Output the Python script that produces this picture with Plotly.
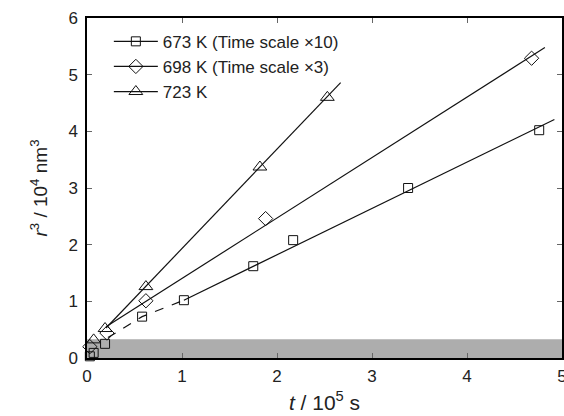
import plotly.graph_objects as go

# ---- data ----
t_673 = [0.03, 0.07, 0.19, 0.58, 1.02, 1.75, 2.17, 3.38, 4.76]
r3_673 = [0.03, 0.09, 0.25, 0.73, 1.02, 1.62, 2.08, 3.00, 4.02]

t_698 = [0.03, 0.21, 0.62, 1.88, 4.68]
r3_698 = [0.20, 0.44, 1.01, 2.46, 5.29]

t_723 = [0.07, 0.19, 0.62, 1.82, 2.53]
r3_723 = [0.32, 0.52, 1.26, 3.37, 4.60]

# guide lines (as drawn)
dash_x_673 = [0.22, 0.58, 1.02]
dash_y_673 = [0.36, 0.73, 1.02]
fit_x_673 = [1.02, 4.92]
fit_y_673 = [1.02, 4.21]
fit_x_698 = [0.20, 4.82]
fit_y_698 = [0.55, 5.48]
fit_x_723 = [0.20, 2.67]
fit_y_723 = [0.53, 4.86]

band_x = [0, 5]
band_y = [0, 0.33]

names = ["673 K (Time scale \u00d710)", "698 K (Time scale \u00d73)", "723 K"]
symbols = ["square-open", "diamond-open", "triangle-up-open"]
sizes = [9, 11, 12]

FONT = "Liberation Sans, Arial, sans-serif"
LC = "#111111"

fig = go.Figure()

# fit lines
fig.add_trace(go.Scatter(x=dash_x_673, y=dash_y_673, mode="lines",
                         line=dict(color=LC, width=1.2, dash="dash"), showlegend=False))
for fx, fy in [(fit_x_673, fit_y_673), (fit_x_698, fit_y_698), (fit_x_723, fit_y_723)]:
    fig.add_trace(go.Scatter(x=fx, y=fy, mode="lines",
                             line=dict(color=LC, width=1.2), showlegend=False))

# markers
for (tx, ry), sym, sz in zip([(t_673, r3_673), (t_698, r3_698), (t_723, r3_723)], symbols, sizes):
    fig.add_trace(go.Scatter(x=tx, y=ry, mode="markers",
                             marker=dict(symbol=sym, size=sz, color=LC,
                                         line=dict(width=1.0, color=LC)),
                             showlegend=False, cliponaxis=False))

# legend entries
for nm, sym, sz in zip(names, symbols, sizes):
    fig.add_trace(go.Scatter(x=[None], y=[None], mode="lines+markers", name=nm,
                             line=dict(color=LC, width=1.2),
                             marker=dict(symbol=sym, size=sz, color=LC,
                                         line=dict(width=1.0, color=LC))))

fig.add_shape(type="rect", xref="x", yref="y", x0=band_x[0], x1=band_x[1],
              y0=band_y[0], y1=band_y[1], fillcolor="#adadad", line=dict(width=0),
              layer="below")

axis_common = dict(showgrid=False, zeroline=False, showline=True, linecolor="#000",
                   linewidth=1.5, mirror="ticks", ticks="inside", ticklen=5,
                   tickcolor="#666", tickwidth=1, automargin=False,
                   ticklabeloverflow="allow",
                   tickfont=dict(size=17, family=FONT, color="#222"))

fig.update_xaxes(range=[0, 5], dtick=1, tick0=0, ticklabelstandoff=2,
                 title=dict(text="<i>t</i> / 10<sup>5</sup> s", font=dict(size=21, family=FONT, color="#222"),
                            standoff=10),
                 **axis_common)
fig.update_yaxes(range=[0, 6], dtick=1, tick0=0, ticklabelstandoff=4,
                 title=dict(text="<i>r</i><sup>3</sup> / 10<sup>4</sup> nm<sup>3</sup>",
                            font=dict(size=19, family=FONT, color="#222"), standoff=16),
                 **axis_common)

fig.update_layout(
    width=564, height=416,
    margin=dict(l=87, r=2, t=18, b=58),
    paper_bgcolor="white", plot_bgcolor="white",
    font=dict(family=FONT, color="#222"),
    legend=dict(x=0.046, y=0.983, xanchor="left", yanchor="top",
                bgcolor="rgba(0,0,0,0)", font=dict(size=17, family=FONT, color="#222"),
                itemwidth=44, tracegroupgap=0),
)

fig.write_html("out.html", config={"displayModeBar": False},
               post_script="document.body.style.margin='0';document.body.style.overflow='hidden';")
